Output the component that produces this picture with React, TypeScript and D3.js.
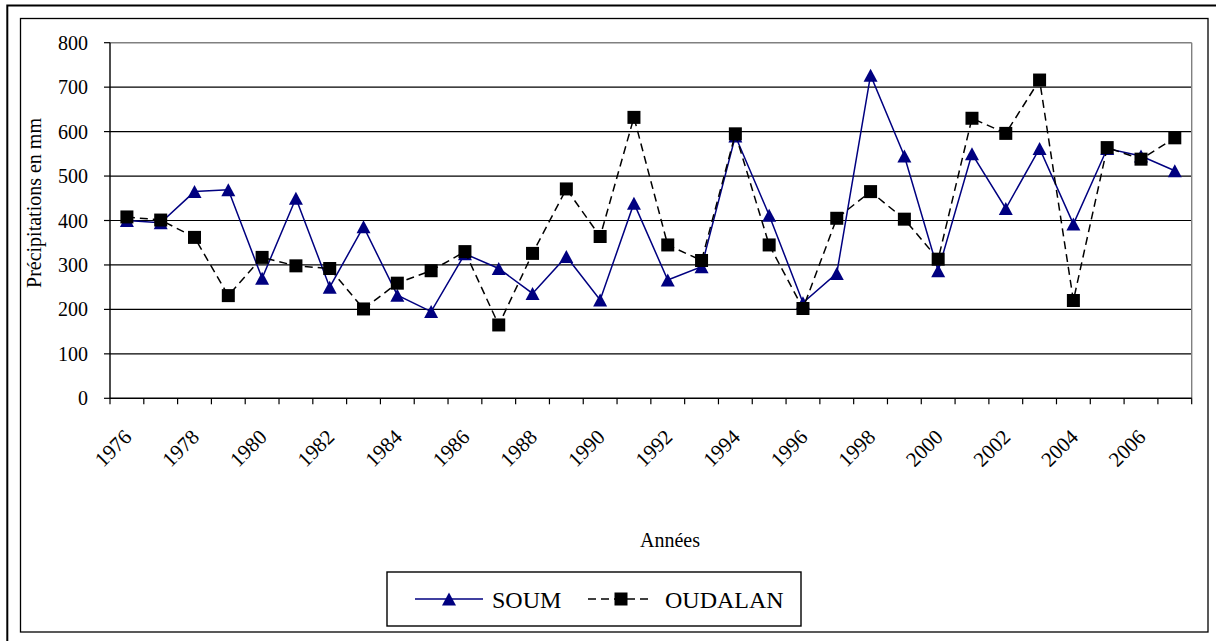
import React from "react";
import * as d3 from "d3";

const years = [
  "1976","1977","1978","1979","1980","1981","1982","1983","1984","1985","1986",
  "1987","1988","1989","1990","1991","1992","1993","1994","1995","1996","1997",
  "1998","1999","2000","2001","2002","2003","2004","2005","2006","2007",
];
const soum = [400,395,465,469,270,450,250,386,232,195,325,292,236,319,221,439,266,296,590,412,215,281,727,545,287,550,427,562,392,562,545,512];
const oudalan = [408,401,362,231,317,298,292,201,259,287,330,165,326,471,364,632,345,310,595,345,202,405,465,403,313,630,596,716,220,564,538,586];
const yTicks = [0,100,200,300,400,500,600,700,800];
const labelYears = ["1976","1978","1980","1982","1984","1986","1988","1990","1992","1994","1996","1998","2000","2002","2004","2006"];

const W = 1216, H = 641;
const L = 110, R = 1191.7, T = 42.7, B = 398.3;
const FONT = "'Liberation Serif', 'Times New Roman', serif";

export default function App() {
  const x = d3.scaleBand<string>().domain(years).range([L, R]).padding(0);
  const y = d3.scaleLinear().domain([0, 800]).range([B, T]);
  const cx = (yr: string) => (x(yr) as number) + x.bandwidth() / 2;

  const line = d3.line<number>().x((_, i) => cx(years[i])).y((d) => y(d));
  const tri = "M0,-6.5L7,6.5L-7,6.5Z";
  const boundaries = years.map((yr) => x(yr) as number).concat([R]);

  return (
    <svg width={W} height={H} style={{ position: "absolute", left: 0, top: 0, background: "#fff" }} fontFamily={FONT}>
      <rect x={0} y={0} width={W} height={H} fill="#fff" />
      {/* outer frame */}
      <rect x={7.3} y={5.5} width={W + 20} height={H + 20} fill="none" stroke="#000" strokeWidth={2} />
      {/* inner frame */}
      <rect x={20.5} y={18.5} width={1208 - 20.5} height={632 - 18.5} fill="none" stroke="#000" strokeWidth={1.3} />

      {/* gridlines */}
      {yTicks.filter((t) => t > 0 && t < 800).map((t) => (
        <line key={"g" + t} x1={L} x2={R} y1={y(t)} y2={y(t)} stroke="#000" strokeWidth={1.2} />
      ))}
      {/* plot border top/right gray */}
      <line x1={L} x2={R} y1={T} y2={T} stroke="#808080" strokeWidth={1.4} />
      <line x1={R} x2={R} y1={T} y2={B} stroke="#808080" strokeWidth={1.4} />
      {/* axes */}
      <line x1={L} x2={L} y1={T} y2={B} stroke="#000" strokeWidth={1.4} />
      <line x1={L} x2={R} y1={B} y2={B} stroke="#000" strokeWidth={1.4} />
      {yTicks.map((t) => (
        <g key={"yt" + t}>
          <line x1={L - 6} x2={L} y1={y(t)} y2={y(t)} stroke="#000" strokeWidth={1.2} />
          <text x={88} y={y(t)} dy="0.35em" textAnchor="end" fontSize={20} fill="#000">{t}</text>
        </g>
      ))}
      {boundaries.map((bx, i) => (
        <line key={"xt" + i} x1={bx} x2={bx} y1={B} y2={B + 6} stroke="#000" strokeWidth={1.2} />
      ))}
      {labelYears.map((yr) => (
        <text key={"xl" + yr} transform={`translate(${cx(yr) + 6},${B + 40}) rotate(-45)`} textAnchor="end" fontSize={21} fill="#000">{yr}</text>
      ))}

      {/* axis titles */}
      <text transform={`translate(41,203) rotate(-90)`} textAnchor="middle" fontSize={20} fill="#000">Précipitations en mm</text>
      <text x={670} y={547} textAnchor="middle" fontSize={20} fill="#000">Années</text>

      {/* SOUM */}
      <path d={line(soum) || ""} fill="none" stroke="#000080" strokeWidth={1.5} />
      {soum.map((v, i) => (
        <path key={"s" + i} d={tri} transform={`translate(${cx(years[i])},${y(v)})`} fill="#000080" />
      ))}
      {/* OUDALAN */}
      <path d={line(oudalan) || ""} fill="none" stroke="#000" strokeWidth={1.5} strokeDasharray="8 5" />
      {oudalan.map((v, i) => (
        <rect key={"o" + i} x={cx(years[i]) - 6.5} y={y(v) - 6.5} width={13} height={13} fill="#000" />
      ))}

      {/* legend */}
      <rect x={387} y={572} width={414} height={54} fill="#fff" stroke="#000" strokeWidth={1.4} />
      <line x1={415} x2={483} y1={599} y2={599} stroke="#000080" strokeWidth={1.5} />
      <path d={tri} transform="translate(449,599)" fill="#000080" />
      <text x={492} y={608} fontSize={24} fill="#000">SOUM</text>
      <line x1={588} x2={652} y1={599} y2={599} stroke="#000" strokeWidth={1.5} strokeDasharray="8 5" />
      <rect x={614.5} y={592.5} width={13} height={13} fill="#000" />
      <text x={665} y={608} fontSize={24} fill="#000">OUDALAN</text>
    </svg>
  );
}
